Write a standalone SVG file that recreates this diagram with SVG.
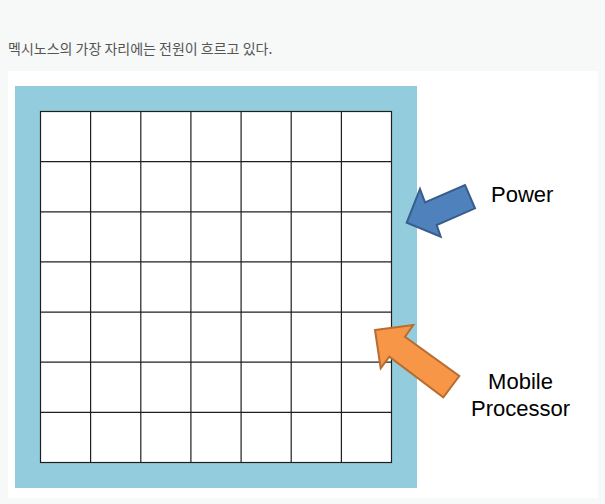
<svg xmlns="http://www.w3.org/2000/svg" width="605" height="504" viewBox="0 0 605 504">
<style>
.grid line{stroke:#1e1e1e;stroke-width:1.2}
.lbl{font-family:"Liberation Sans","Noto Sans",sans-serif;font-size:22px;fill:#000}
.cap{font-family:"Noto Sans CJK KR","Noto Sans",sans-serif;font-size:14px;fill:#555}
</style>
<rect x="0" y="0" width="605" height="504" fill="#f7f8f8"/>
<text class="cap" x="8" y="54">멕시노스의 가장 자리에는 전원이 흐르고 있다.</text>
<rect x="8" y="71" width="590" height="427" fill="#ffffff"/>
<g id="chip">
<rect x="15" y="86" width="402" height="402" fill="#93cddd"/>
<rect x="40.5" y="111.5" width="351" height="351" fill="#ffffff" stroke="#1e1e1e" stroke-width="1.2"/>
<g class="grid">
<line x1="90.6" y1="111.5" x2="90.6" y2="462.5"/>
<line x1="140.8" y1="111.5" x2="140.8" y2="462.5"/>
<line x1="190.9" y1="111.5" x2="190.9" y2="462.5"/>
<line x1="241.1" y1="111.5" x2="241.1" y2="462.5"/>
<line x1="291.2" y1="111.5" x2="291.2" y2="462.5"/>
<line x1="341.4" y1="111.5" x2="341.4" y2="462.5"/>
<line x1="40.5" y1="161.6" x2="391.5" y2="161.6"/>
<line x1="40.5" y1="211.8" x2="391.5" y2="211.8"/>
<line x1="40.5" y1="261.9" x2="391.5" y2="261.9"/>
<line x1="40.5" y1="312.1" x2="391.5" y2="312.1"/>
<line x1="40.5" y1="362.2" x2="391.5" y2="362.2"/>
<line x1="40.5" y1="412.4" x2="391.5" y2="412.4"/>
</g>
</g>
<g id="connectors">
<polygon id="power-arrow" points="406.7,222.7 420,189 425,202.3 465,185 475,208.3 436.7,225 440.7,236.7" fill="#4f81bd" stroke="#385d8a" stroke-width="2" stroke-linejoin="miter"/>
<polygon id="cpu-arrow" points="375,330 413.3,325 405,336.7 459.3,376 443.3,397.3 389.3,356.7 380.7,368.3" fill="#f79646" stroke="#b66d31" stroke-width="2" stroke-linejoin="miter"/>
</g>
<g id="power">
<text class="lbl" x="491" y="201.5">Power</text>
</g>
<g id="processor">
<text class="lbl" x="520.5" y="388.5" text-anchor="middle">Mobile</text>
<text class="lbl" x="520.5" y="416" text-anchor="middle">Processor</text>
</g>
</svg>
